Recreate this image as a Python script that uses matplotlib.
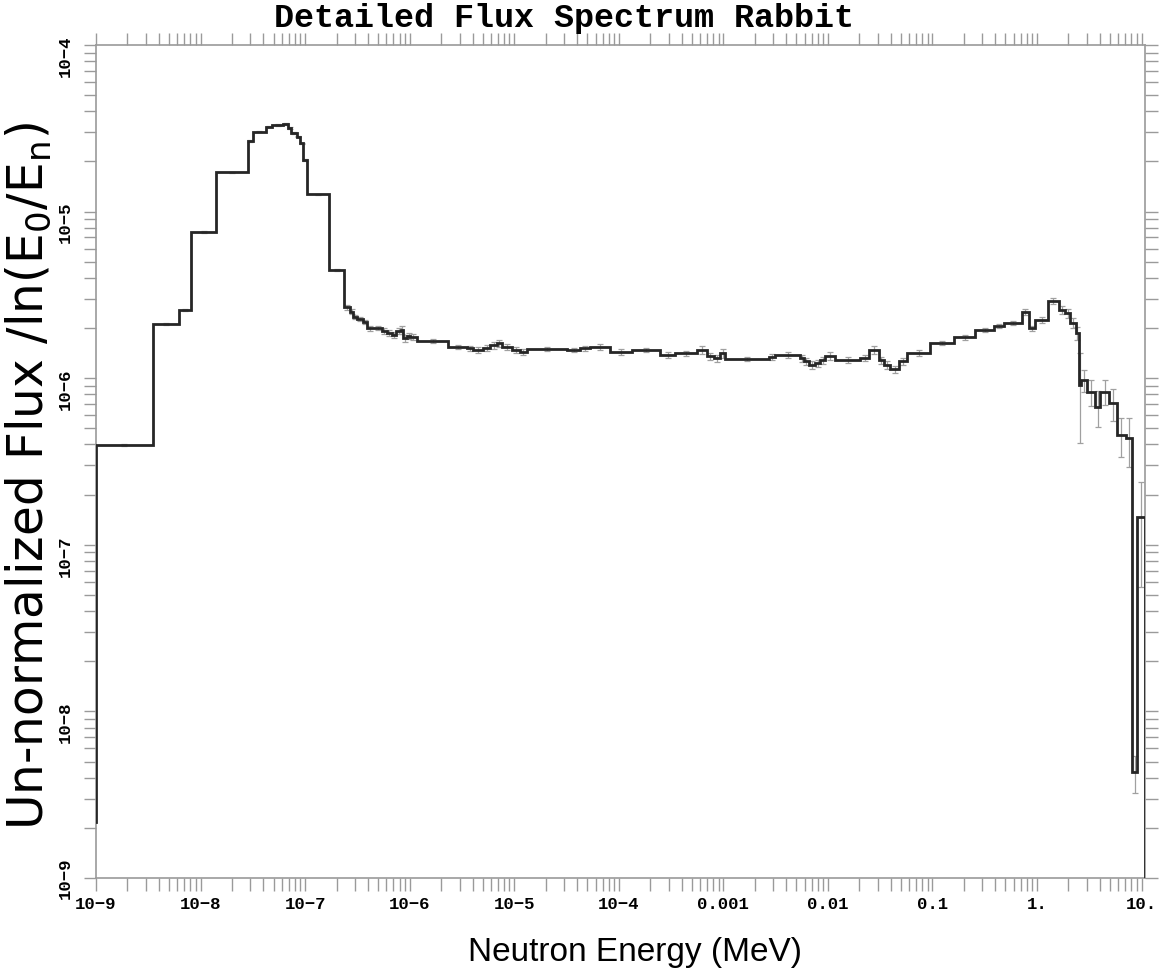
import numpy as np
import matplotlib
matplotlib.use("Agg")
import matplotlib.pyplot as plt
from matplotlib.ticker import FixedLocator, NullFormatter
from matplotlib.transforms import ScaledTranslation

# energy group boundaries (MeV) and flux per group
edges = [
    1.00e-9, 3.49e-9, 6.27e-9, 8.11e-9, 1.41e-8, 2.83e-8, 3.16e-8, 4.24e-8, 4.80e-8, 6.20e-8,
    6.88e-8, 7.35e-8, 8.33e-8, 8.96e-8, 9.63e-8, 1.045e-7, 1.71e-7, 2.36e-7, 2.70e-7, 2.86e-7,
    3.12e-7, 3.57e-7, 3.89e-7, 4.50e-7, 5.42e-7, 6.05e-7, 6.76e-7, 7.43e-7, 8.24e-7, 8.61e-7,
    9.53e-7, 1.01e-6, 1.17e-6, 2.35e-6, 3.53e-6, 4.08e-6, 5.08e-6, 5.89e-6, 6.83e-6, 7.63e-6,
    9.51e-6, 1.14e-5, 1.32e-5, 3.19e-5, 4.28e-5, 5.34e-5, 8.29e-5, 1.34e-4, 2.50e-4, 3.47e-4,
    5.60e-4, 6.98e-4, 8.08e-4, 9.36e-4, 1.045e-3, 2.71e-3, 3.15e-3, 5.46e-3, 5.87e-3, 6.55e-3,
    7.59e-3, 8.48e-3, 9.47e-3, 1.18e-2, 2.05e-2, 2.46e-2, 3.06e-2, 3.42e-2, 3.96e-2, 4.76e-2,
    5.73e-2, 9.57e-2, 0.160, 0.258, 0.386, 0.481, 0.722, 0.835, 0.967, 1.27,
    1.62, 1.87, 2.09, 2.34, 2.52, 2.64, 3.02, 3.63, 4.05, 4.87,
    5.86, 7.03, 8.15, 9.10, 10.8,
]

flux = [
    3.97e-7, 2.11e-6, 2.57e-6, 7.54e-6, 1.72e-5, 2.66e-5, 3.02e-5, 3.23e-5, 3.31e-5, 3.36e-5,
    3.18e-5, 2.96e-5, 2.82e-5, 2.57e-5, 2.04e-5, 1.27e-5, 4.46e-6, 2.66e-6, 2.51e-6, 2.34e-6,
    2.27e-6, 2.18e-6, 1.99e-6, 2.01e-6, 1.92e-6, 1.86e-6, 1.82e-6, 1.92e-6, 1.95e-6, 1.735e-6,
    1.79e-6, 1.76e-6, 1.68e-6, 1.545e-6, 1.51e-6, 1.48e-6, 1.52e-6, 1.58e-6, 1.62e-6, 1.545e-6,
    1.48e-6, 1.44e-6, 1.50e-6, 1.48e-6, 1.51e-6, 1.545e-6, 1.44e-6, 1.48e-6, 1.38e-6, 1.41e-6,
    1.48e-6, 1.35e-6, 1.32e-6, 1.41e-6, 1.30e-6, 1.335e-6, 1.38e-6, 1.32e-6, 1.26e-6, 1.20e-6,
    1.23e-6, 1.285e-6, 1.36e-6, 1.285e-6, 1.32e-6, 1.48e-6, 1.285e-6, 1.20e-6, 1.13e-6, 1.26e-6,
    1.42e-6, 1.62e-6, 1.76e-6, 1.95e-6, 2.06e-6, 2.15e-6, 2.49e-6, 1.99e-6, 2.235e-6, 2.92e-6,
    2.57e-6, 2.45e-6, 2.15e-6, 1.86e-6, 9.10e-7, 9.75e-7, 8.30e-7, 6.74e-7, 8.30e-7, 7.07e-7,
    4.56e-7, 4.36e-7, 4.34e-9, 1.47e-7,
]

# relative statistical error, percent
rel_err = [
    1, 1, 1, 1, 1, 1, 1, 1, 1, 1, 1, 1, 1, 1, 1, 1,
    2, 3, 3, 3, 3, 3, 3, 3, 4, 4,
    4, 4, 5, 5, 4, 4, 3, 3, 4, 4,
    4, 5, 5, 4, 4, 4, 3, 3, 4, 4,
    4, 3, 4, 4, 5, 5, 5, 6, 3, 4,
    4, 5, 5, 5, 5, 5, 5, 4, 4, 5,
    5, 5, 5, 5, 4, 3, 3, 3, 3, 3,
    4, 4, 4, 4, 5, 6, 7, 9, 55, 15,
    18, 24, 17, 22, 26, 33, 25, 62,
]

flux_start = 2.17e-9   # value the histogram rises from at the lowest edge
flux_end = 0.0         # drops off the plot above the last edge

xtick_vals = [1e-9, 1e-8, 1e-7, 1e-6, 1e-5, 1e-4, 1e-3, 1e-2, 0.1, 1.0, 10.0]
xtick_labels = ["10−9", "10−8", "10−7", "10−6", "10−5", "10−4",
                "0.001", "0.01", "0.1", "1.", "10."]
ytick_vals = [1e-9, 1e-8, 1e-7, 1e-6, 1e-5, 1e-4]
ytick_labels = ["10−9", "10−8", "10−7", "10−6", "10−5", "10−4"]

edges = np.array(edges)
flux = np.array(flux)
rel_err = np.array(rel_err) / 100.0

mono = ["Liberation Mono", "DejaVu Sans Mono"]
plt.rcParams["mathtext.fontset"] = "dejavusans"

fig = plt.figure(figsize=(11.6, 9.76), dpi=100)
ax = fig.add_axes([96 / 1160, 1 - 878 / 976, (1145 - 96) / 1160, (878 - 45) / 976])
ax.set_xscale("log")
ax.set_yscale("log", nonpositive="clip")

# step outline of the group fluxes
xs = np.repeat(edges, 2)
ys = np.r_[flux_start, np.repeat(flux, 2), flux_end]
ax.plot(xs, ys, color="#262626", lw=2.0, solid_joinstyle="miter", zorder=3)

centers = np.sqrt(edges[:-1] * edges[1:])
ax.errorbar(centers, flux, yerr=flux * rel_err, fmt="none", ecolor="#a0a0a0",
            elinewidth=0.9, capsize=2.4, capthick=0.9, zorder=2)

ax.set_xlim(edges[0], edges[-1])
ax.set_ylim(1e-9, 1e-4)

# axes frame and ticks
for sp in ax.spines.values():
    sp.set_color("#9a9a9a")
    sp.set_linewidth(1.2)

ax.xaxis.set_major_locator(FixedLocator(xtick_vals))
ax.yaxis.set_major_locator(FixedLocator(ytick_vals))
minor_x = [m * 10.0 ** k for k in range(-9, 2) for m in range(2, 10)]
minor_y = [m * 10.0 ** k for k in range(-9, -4) for m in range(2, 10)]
ax.xaxis.set_minor_locator(FixedLocator(minor_x))
ax.yaxis.set_minor_locator(FixedLocator(minor_y))
ax.xaxis.set_minor_formatter(NullFormatter())
ax.yaxis.set_minor_formatter(NullFormatter())
ax.set_xticklabels(xtick_labels, family=mono, weight="bold", fontsize=12.5)
ax.set_yticklabels(ytick_labels, family=mono, weight="bold", fontsize=12.5,
                   rotation=90, va="center")
ax.tick_params(which="both", direction="out", top=True, right=True,
               length=9, width=1.0, color="#9a9a9a")
ax.tick_params(axis="x", pad=5)
ax.tick_params(axis="y", pad=8)

# y labels hang just below their ticks, the lowest one is centred
for i, lab in enumerate(ax.get_yticklabels()):
    dy = 0 if i == 0 else -8
    lab.set_transform(lab.get_transform() + ScaledTranslation(0, dy / 72, fig.dpi_scale_trans))

fig.text(0.486, 1 - 18 / 976, "Detailed Flux Spectrum Rabbit", family=mono,
         weight="bold", fontsize=24, ha="center", va="center")
fig.text(635 / 1160, 1 - 952 / 976, "Neutron Energy (MeV)", family="Liberation Sans",
         fontsize=24, ha="center", va="center")
fig.text(28 / 1160, 1 - 476 / 976, r"Un-normalized Flux /ln(E$_0$/E$_\mathrm{n}$)",
         family="DejaVu Sans", fontsize=35, rotation=90, ha="center", va="center")

fig.savefig("out.png", dpi=100, facecolor="white")
